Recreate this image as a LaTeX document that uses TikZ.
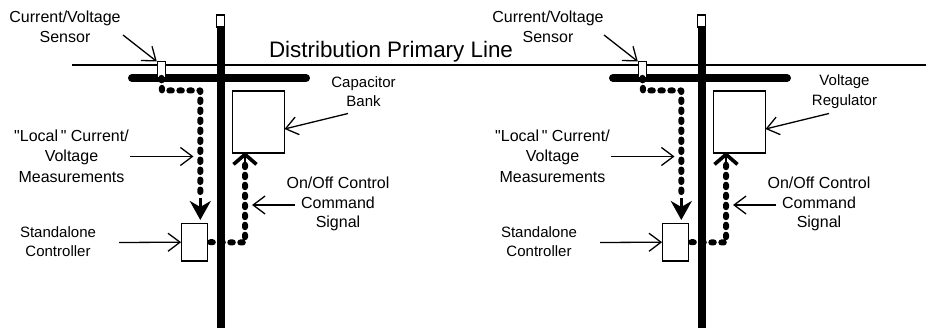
\documentclass[tikz,border=0pt]{standalone}
\usepackage{fontspec}
\setmainfont{Liberation Sans}
\usetikzlibrary{arrows.meta}
\tikzset{
  x=1pt,y=-1pt,
  pole/.style={line width=8pt},
  crossarm/.style={line width=8pt,line cap=round},
  wire/.style={line width=1.2pt},
  unit/.style={draw,line width=1.2pt,fill=white,inner sep=0pt,minimum width=#1},
  signal/.style={line width=6pt,dash pattern=on 2.5pt off 7.5pt,line cap=round,line join=round},
  downhead/.style={-{Stealth[length=19pt,width=21pt,inset=6pt]},line width=3pt},
  uphead/.style={-{Straight Barb[length=10pt,width=23pt,line width=3.6pt]},line width=2pt},
  pointer/.style={line width=1.3pt,-{Straight Barb[length=12pt,width=18pt,line width=1.3pt]}},
  lbl/.style={font=\fontsize{16}{19.5}\selectfont,align=center,inner sep=0pt},
  lblsmall/.style={font=\fontsize{15}{19.5}\selectfont,align=center,inner sep=0pt},
  title/.style={font=\fontsize{22.4}{24}\selectfont,inner sep=0pt,anchor=base}
}
\newcommand{\polegroup}[5]{%
 \begin{scope}[shift={(#2,0)}]
  \coordinate (#1top) at (220.8,27);
  \coordinate (#1bot) at (220.8,328);
  \draw[pole] (#1top) -- (#1bot);
  \node[unit=8pt,minimum height=12pt] (#1ins) at (220.5,21) {};
  \coordinate (#1armL) at (132,78);
  \coordinate (#1armR) at (306,78);
  \draw[crossarm] (#1armL) -- (#1armR);
  \node[unit=8.5pt,minimum height=15.5pt] (#1sens) at (161.5,69.5) {};
  \node[unit=26pt,minimum height=37.5pt] (#1ctrl) at (194.7,242.2) {};
  \node[unit=51.5pt,minimum height=62pt] (#1bank) at (258.6,122) {};
  % dotted signal lines
  \coordinate (#1a) at (162,90.5);
  \coordinate (#1b) at (200.3,90.5);
  \coordinate (#1c) at (200.3,197);
  \coordinate (#1c2) at (200.3,198);
  \coordinate (#1d) at (200.3,220);
  \draw[signal] (#1sens.south) -- (#1a) -- (#1b) -- (#1c);
  \draw[downhead] (#1c2) -- (#1d);
  \coordinate (#1e) at (245,242.5);
  \coordinate (#1f) at (245,160);
  \coordinate (#1f2) at (245,166);
  \coordinate (#1g) at (245,152);
  \draw[signal] (#1ctrl.east) ++(2,0) -- (#1e) -- (#1f);
  \draw[uphead] (#1f2) -- (#1g);
  % labels
  \node[lbl] (#1Lsens) at (#3,27) {Current/Voltage\\Sensor};
  \node[lbl,font=\fontsize{16}{20.5}\selectfont] (#1Lloc) at (71.5,156) {\textquotedbl Local\,\textquotedbl\ Current/\\Voltage\\Measurements};
  \node[lblsmall] (#1Lctrl) at (58,241.5) {Standalone\\Controller};
  \node[lbl] (#1Lcmd) at (338,204) {On/Off Control\\Command\\Signal};
  \node[lblsmall] (#1Lbank) at (363.5,91.5) {#4\\#5};
  % pointers
  \coordinate (#1p1) at (123,35);
  \coordinate (#1p2) at (130,156.5);
  \coordinate (#1p3) at (119,242.5);
  \coordinate (#1p4) at (295,205);
  \coordinate (#1p5) at (348,113.5);
  \coordinate (#1t1) at (156.8,61.5);
  \coordinate (#1t2) at (193.5,156.5);
  \coordinate (#1t4) at (252,205);
  \coordinate (#1t5) at (284.5,129);
  \draw[pointer] (#1p1) -- (#1t1);
  \draw[pointer] (#1p2) -- (#1t2);
  \draw[pointer] (#1p3) -- (#1ctrl.west);
  \draw[pointer] (#1p4) -- (#1t4);
  \draw[pointer] (#1p5) -- (#1t5);
 \end{scope}}
\begin{document}
\begin{tikzpicture}
\useasboundingbox (0,0) rectangle (926,328);
\coordinate (lineL) at (72,65);
\coordinate (lineR) at (926,65);
\draw[wire] (lineL) -- (lineR);
\polegroup{A}{0}{65}{Capacitor}{Bank}
\polegroup{B}{481}{67}{Voltage}{Regulator}
\node[title] (ttl) at (391,58) {Distribution Primary Line};
\end{tikzpicture}
\end{document}
